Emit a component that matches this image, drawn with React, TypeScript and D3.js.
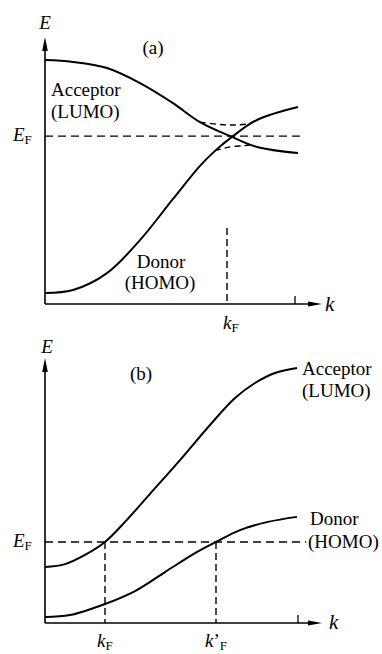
import React from "react";
import * as d3 from "d3";

// Band energies E(k) in reduced units; k runs 0..1 to the last tick, E 0..1 to the arrow
const kA = [0, 0.112, 0.248, 0.38, 0.512, 0.62, 0.748, 0.848, 1.012];
const acceptorA = [0.924, 0.917, 0.894, 0.837, 0.761, 0.689, 0.633, 0.595, 0.572];
const kDonA = [0, 0.112, 0.248, 0.38, 0.512, 0.62, 0.68, 0.748, 0.848, 1.012];
const donorA = [0.042, 0.053, 0.117, 0.242, 0.398, 0.523, 0.58, 0.633, 0.697, 0.746];

// Hybridised branches near the crossing (avoided crossing)
const kGapUpper = [0.62, 0.7, 0.76, 0.82, 0.84];
const gapUpper = [0.689, 0.68, 0.678, 0.684, 0.695];
const kGapLower = [0.68, 0.74, 0.8, 0.828];
const gapLower = [0.58, 0.595, 0.6, 0.604];

const fermiEA = 0.636;
const fermiKA = 0.728;

const kAccB = [0, 0.08, 0.16, 0.24, 0.32, 0.42, 0.54, 0.66, 0.76, 0.84, 0.92, 1.008];
const acceptorB = [0.212, 0.223, 0.258, 0.307, 0.383, 0.489, 0.617, 0.75, 0.852, 0.909, 0.947, 0.966];
const kDonB = [0, 0.1, 0.24, 0.36, 0.48, 0.6, 0.684, 0.78, 0.892, 1.008];
const donorB = [0.023, 0.03, 0.072, 0.121, 0.193, 0.265, 0.307, 0.352, 0.383, 0.402];

const fermiEB = 0.307;
const fermiKB = 0.24;
const fermiKBprime = 0.684;

const FONT = "'Liberation Serif', 'DejaVu Serif', serif";
const FS = 19;

type Panel = {
  y0: number; // pixel y of E = 0 (k axis)
  yTop: number; // pixel y of arrow tip
};

const x = d3.scaleLinear().domain([0, 1]).range([45, 295]);

function makeY(p: Panel) {
  return d3.scaleLinear().domain([0, 1]).range([p.y0, p.y0 - 264]);
}

function pathFrom(ks: number[], es: number[], y: d3.ScaleLinear<number, number>) {
  const pts = ks.map((k, i) => [k, es[i]] as [number, number]);
  return (
    d3
      .line<[number, number]>()
      .x((d) => x(d[0]))
      .y((d) => y(d[1]))
      .curve(d3.curveCatmullRom.alpha(0.5))(pts) || ""
  );
}

function Axes({ p, tickK }: { p: Panel; tickK: number }) {
  const ax = x(0);
  const arrowX = 322;
  return (
    <g>
      <line x1={ax} y1={p.y0} x2={ax} y2={p.yTop + 12} stroke="#000" strokeWidth={1.6} />
      <path d={`M${ax},${p.yTop} L${ax - 2.8},${p.yTop + 14} L${ax + 2.8},${p.yTop + 14} Z`} fill="#000" />
      <line x1={ax} y1={p.y0} x2={arrowX - 12} y2={p.y0} stroke="#000" strokeWidth={1.6} />
      <path d={`M${arrowX},${p.y0} L${arrowX - 14},${p.y0 - 2.6} L${arrowX - 14},${p.y0 + 2.6} Z`} fill="#000" />
      <line x1={x(tickK)} y1={p.y0} x2={x(tickK)} y2={p.y0 - 8} stroke="#000" strokeWidth={1.3} />
    </g>
  );
}

function Sub({ x0, y0, main, sub, prime }: { x0: number; y0: number; main: string; sub: string; prime?: boolean }) {
  return (
    <text x={x0} y={y0} fontFamily={FONT} fontSize={FS}>
      <tspan fontStyle="italic">{main}</tspan>
      {prime ? <tspan>{"\u2019"}</tspan> : null}
      <tspan fontSize={13} dy={3}>{sub}</tspan>
    </text>
  );
}

export default function App() {
  const pa: Panel = { y0: 304, yTop: 37 };
  const pb: Panel = { y0: 623, yTop: 358 };
  const ya = makeY(pa);
  const yb = makeY(pb);
  const dash = "8,5";

  return (
    <svg
      width={382}
      height={654}
      style={{ position: "absolute", left: 0, top: 0, background: "#fff" }}
    >
      {/* Panel (a) */}
      <Axes p={pa} tickK={1} />
      <line x1={x(0)} x2={302} y1={ya(fermiEA)} y2={ya(fermiEA)} stroke="#000" strokeWidth={1.4} strokeDasharray={dash} />
      <line x1={x(fermiKA)} x2={x(fermiKA)} y1={228} y2={pa.y0} stroke="#000" strokeWidth={1.4} strokeDasharray="7,4" />
      <path d={pathFrom(kA, acceptorA, ya)} fill="none" stroke="#000" strokeWidth={2} />
      <path d={pathFrom(kDonA, donorA, ya)} fill="none" stroke="#000" strokeWidth={2} />
      <path d={pathFrom(kGapUpper, gapUpper, ya)} fill="none" stroke="#000" strokeWidth={1.4} strokeDasharray="6,4" />
      <path d={pathFrom(kGapLower, gapLower, ya)} fill="none" stroke="#000" strokeWidth={1.4} strokeDasharray="6,4" />

      <text x={45} y={29} fontFamily={FONT} fontSize={FS} fontStyle="italic" textAnchor="middle">E</text>
      <text x={153} y={54} fontFamily={FONT} fontSize={FS} textAnchor="middle">(a)</text>
      <text x={51} y={96} fontFamily={FONT} fontSize={FS}>Acceptor</text>
      <text x={51} y={118} fontFamily={FONT} fontSize={FS}>(LUMO)</text>
      <text x={161} y={268} fontFamily={FONT} fontSize={FS} textAnchor="middle">Donor</text>
      <text x={160} y={289} fontFamily={FONT} fontSize={FS} textAnchor="middle">(HOMO)</text>
      <Sub x0={13} y0={141} main="E" sub="F" />
      <text x={325} y={311} fontFamily={FONT} fontSize={FS + 2} fontStyle="italic">k</text>
      <Sub x0={223} y0={329} main="k" sub="F" />

      {/* Panel (b) */}
      <Axes p={pb} tickK={1.012} />
      <line x1={x(0)} x2={306} y1={yb(fermiEB)} y2={yb(fermiEB)} stroke="#000" strokeWidth={1.4} strokeDasharray={dash} />
      <line x1={x(fermiKB)} x2={x(fermiKB)} y1={yb(fermiEB)} y2={pb.y0} stroke="#000" strokeWidth={1.4} strokeDasharray="7,4" />
      <line x1={x(fermiKBprime)} x2={x(fermiKBprime)} y1={yb(fermiEB)} y2={pb.y0} stroke="#000" strokeWidth={1.4} strokeDasharray="7,4" />
      <path d={pathFrom(kAccB, acceptorB, yb)} fill="none" stroke="#000" strokeWidth={2} />
      <path d={pathFrom(kDonB, donorB, yb)} fill="none" stroke="#000" strokeWidth={2} />

      <text x={47} y={353} fontFamily={FONT} fontSize={FS} fontStyle="italic" textAnchor="middle">E</text>
      <text x={141} y={380} fontFamily={FONT} fontSize={FS} textAnchor="middle">(b)</text>
      <text x={302} y={375} fontFamily={FONT} fontSize={FS}>Acceptor</text>
      <text x={302} y={397} fontFamily={FONT} fontSize={FS}>(LUMO)</text>
      <text x={310} y={525} fontFamily={FONT} fontSize={FS}>Donor</text>
      <text x={308} y={548} fontFamily={FONT} fontSize={FS}>(HOMO)</text>
      <Sub x0={13} y0={547} main="E" sub="F" />
      <text x={329} y={629} fontFamily={FONT} fontSize={FS + 2} fontStyle="italic">k</text>
      <Sub x0={97} y0={647} main="k" sub="F" />
      <Sub x0={205} y0={647} main="k" sub="F" prime />
    </svg>
  );
}
